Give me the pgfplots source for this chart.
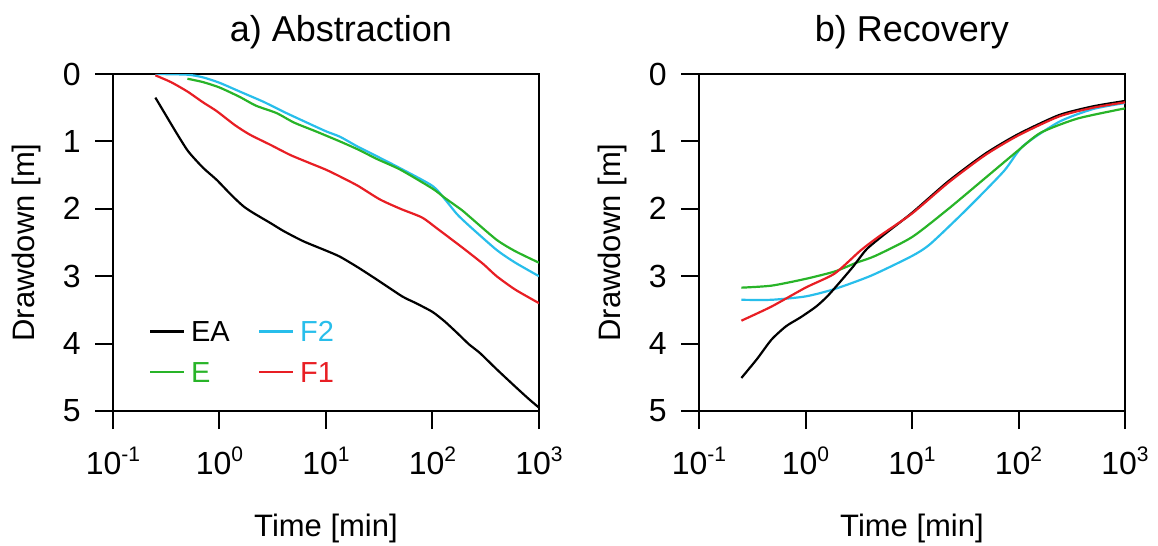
\documentclass[border=0pt]{standalone}
\usepackage{fontspec}
\setmainfont{Liberation Sans}
\setsansfont{Liberation Sans}
\usepackage{pgfplots}
\pgfplotsset{compat=1.18}
\definecolor{cE}{RGB}{40,180,40}
\definecolor{cF2}{RGB}{40,190,235}
\definecolor{cF1}{RGB}{232,30,36}
\newcommand{\mysup}[1]{\raisebox{6.5pt}{\fontsize{10.5}{10.5}\selectfont #1}}
\pgfplotsset{
  mypanel/.style={
    scale only axis, width=213pt, height=168.5pt,
    xmin=0.1, xmax=1000, ymin=0, ymax=5, y dir=reverse,
    xtick={0.1,1,10,100,1000},
    xticklabels={10\mysup{-1},10\mysup{0},10\mysup{1},10\mysup{2},10\mysup{3}},
    ytick={0,1,2,3,4,5}, yticklabels={0,1,2,3,4,5},
    xminorticks=false, yminorticks=false,
    tick align=outside, xtick pos=left, ytick pos=left,
    major tick length=9pt,
    axis line style={line width=1pt, black},
    major tick style={black, line width=1pt},
    tick label style={font=\fontsize{16}{16}\selectfont},
    xlabel={Time [min]},
    ylabel={Drawdown [m]},
    every axis y label/.style={at={(axis description cs:-0.202,0.5)}, rotate=90, anchor=center, font=\fontsize{15.5}{15.5}\selectfont},
    every axis x label/.style={at={(axis description cs:0.5,0)}, anchor=base, yshift=-62.5pt, font=\fontsize{15.5}{15.5}\selectfont},
    yticklabel style={xshift=-3.7pt},
    xticklabel style={yshift=-5.6pt},
    every axis plot/.append style={line width=1.1pt, smooth, tension=0.4},
  },
  legend image code/.code={\draw[#1] (0pt,0pt) -- (17pt,0pt); \path[draw=none,fill=none] (0pt,-6pt) rectangle (20.5pt,4.4pt);},
}
\begin{document}
\begin{tikzpicture}
\begin{semilogxaxis}[mypanel, at={(0pt,0pt)}, anchor=south west,
  title={a) Abstraction},
  every axis title/.style={at={(axis description cs:0.535,1)}, anchor=base, yshift=16.5pt, font=\fontsize{18}{18}\selectfont},
  legend columns=2, legend cell align=left,
  legend style={draw=none, fill=none, inner sep=0pt, outer sep=0pt, at={(axis description cs:0.0845,0.2665)}, anchor=north west,
    nodes={inner sep=0pt, outer sep=0pt, text height=10.4pt, text depth=0pt, font=\fontsize{14.5}{14.5}\selectfont},
    row sep=9.1pt, column sep=0pt},
]
\addplot[black] coordinates {(0.25,0.35)(0.3,0.56)(0.4,0.89)(0.51,1.15)(0.7,1.39)(0.94,1.57)(1.3,1.8)(1.67,1.96)(2.07,2.06)(3,2.21)(4,2.33)(6.1,2.48)(10,2.62)(13.5,2.71)(20,2.87)(30,3.05)(52,3.30)(70,3.40)(100,3.53)(130,3.67)(170,3.84)(220,4.01)(279,4.14)(400,4.38)(600,4.64)(800,4.82)(1000,4.95)};
\addlegendentry{\makebox[33.5pt][l]{\textcolor{black}{EA}}}
\addplot[cF2] coordinates {(0.25,0.0)(0.5,0.01)(0.7,0.05)(1,0.13)(1.55,0.26)(2.57,0.41)(4,0.56)(6,0.69)(10,0.85)(13.5,0.93)(20,1.08)(30,1.22)(50,1.40)(100,1.66)(131,1.86)(170,2.08)(224,2.26)(400,2.61)(600,2.8)(1000,3.0)};
\addlegendentry{\textcolor{cF2}{F2}}
\addplot[cE] coordinates {(0.5,0.07)(0.7,0.12)(1,0.2)(1.55,0.34)(2.2,0.47)(3.44,0.58)(5,0.72)(8,0.85)(13.5,1.0)(20,1.12)(30,1.26)(50,1.42)(100,1.70)(131,1.84)(189,2.02)(224,2.12)(400,2.46)(600,2.63)(1000,2.80)};
\addlegendentry{\textcolor{cE}{E}}
\addplot[cF1] coordinates {(0.25,0.02)(0.35,0.12)(0.5,0.26)(0.7,0.42)(0.94,0.55)(1.4,0.76)(1.93,0.9)(3,1.05)(4.6,1.2)(7,1.32)(10,1.42)(13.5,1.52)(20,1.66)(32,1.86)(50,2.0)(80,2.13)(110,2.29)(150,2.45)(200,2.6)(300,2.82)(400,3.0)(600,3.2)(1000,3.40)};
\addlegendentry{\textcolor{cF1}{F1}}
\end{semilogxaxis}
\begin{semilogxaxis}[mypanel, at={(293pt,0pt)}, anchor=south west,
  title={b) Recovery},
  every axis title/.style={at={(axis description cs:0.5,1)}, anchor=base, yshift=16.5pt, font=\fontsize{18}{18}\selectfont},
]
\addplot[cF2] coordinates {(0.25,3.35)(0.48,3.35)(1,3.30)(1.88,3.19)(4.16,2.99)(10,2.70)(14.9,2.52)(33,2.0)(73,1.44)(110,1.07)(240,0.71)(500,0.52)(1000,0.43)};
\addplot[cE] coordinates {(0.25,3.17)(0.48,3.14)(1,3.04)(1.88,2.93)(3,2.8)(4.5,2.70)(10,2.42)(22,2.0)(49,1.54)(100,1.13)(162,0.87)(360,0.66)(1000,0.51)};
\addplot[black] coordinates {(0.25,4.51)(0.35,4.23)(0.48,3.94)(0.66,3.74)(0.90,3.61)(1.26,3.45)(1.60,3.30)(2.02,3.12)(2.79,2.86)(3.75,2.60)(5.6,2.37)(10,2.06)(22,1.59)(49,1.18)(100,0.89)(240,0.61)(500,0.48)(1000,0.40)};
\addplot[cF1] coordinates {(0.25,3.66)(0.48,3.45)(1,3.17)(1.88,2.96)(3.28,2.62)(5,2.4)(10,2.07)(22,1.61)(49,1.20)(100,0.91)(240,0.63)(500,0.50)(1000,0.42)};
\end{semilogxaxis}
\pgfresetboundingbox
\useasboundingbox (-56.5pt,-67.5pt) rectangle (522.5pt,205.5pt);
\end{tikzpicture}
\end{document}
